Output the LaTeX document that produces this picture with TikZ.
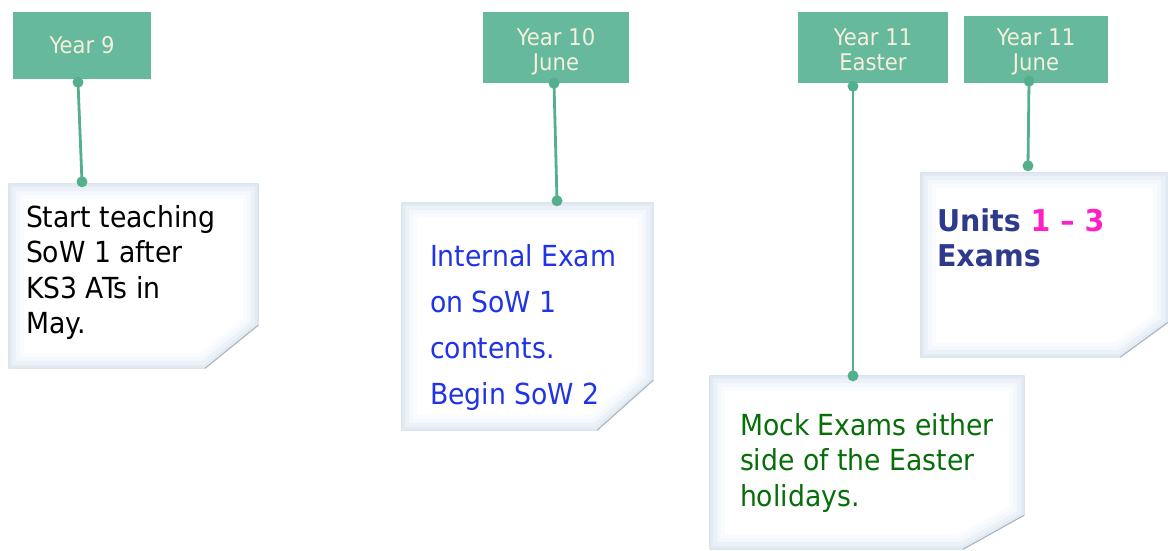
\documentclass[tikz,border=0pt]{standalone}
\usepackage{fontspec}
\setmainfont{DejaVu Sans}[FakeStretch=0.92, BoldFeatures={FakeStretch=0.95}]
\usetikzlibrary{positioning}
\definecolor{yearfill}{RGB}{102,185,156}
\definecolor{yeartext}{RGB}{245,240,220}
\definecolor{stemgreen}{RGB}{84,176,140}
\definecolor{paperedge}{RGB}{205,216,229}
\definecolor{paperglow}{RGB}{226,234,244}
\definecolor{sowblue}{RGB}{32,52,230}
\definecolor{mockgreen}{RGB}{8,110,10}
\definecolor{unitnavy}{RGB}{46,58,140}
\definecolor{unitpink}{RGB}{255,30,200}

\begin{document}
\begin{tikzpicture}[x=1pt,y=-1pt]
% Styles
\tikzstyle{year}=[fill=yearfill, text=yeartext, align=center, inner sep=0pt, text depth=0pt, font=\fontsize{23}{25}\selectfont]
\tikzstyle{paper}=[inner sep=0pt]
\tikzstyle{notetext}=[inner sep=0pt, align=left]
\tikzstyle{link}=[draw=stemgreen, line width=2.8pt]
\tikzset{paperpath/.style n args={3}{insert path={(#1.north west) -- (#1.north east) -- ([yshift=#3pt]#1.south east) -- ([xshift=-#2pt]#1.south east) -- (#1.south west) -- cycle}}}

\useasboundingbox (0,0) rectangle (1168,550);
\fill[white] (0,0) rectangle (1168,550);

% year boxes
\node[year, minimum width=138, minimum height=67, text height=15pt] (y9) at (82,45.5) {Year 9};
\node[year, minimum width=146, minimum height=71, text height=45pt] (y10) at (556,47.5) {Year 10\\June};
\node[year, minimum width=150, minimum height=71, text height=45pt] (y11e) at (873,47.5) {Year 11\\Easter};
\node[year, minimum width=144, minimum height=67, text height=41pt] (y11j) at (1036,49.5) {Year 11\\June};

% the notes
\node[paper, minimum width=249, minimum height=184] (n1) at (133.5,276) {};
\node[paper, minimum width=251, minimum height=227] (n2) at (527.5,316.5) {};
\node[paper, minimum width=314, minimum height=173] (n3) at (867,462.5) {};
\node[paper, minimum width=247, minimum height=184] (n4) at (1044.5,265) {};

\foreach \n/\cx/\cy in {n1/53/43,n2/56/50,n3/61/34,n4/48/35} {
\begin{scope}
\clip[paperpath={\n}{\cx}{\cy}];
\fill[white] (\n.north west) rectangle (\n.south east);
\draw[paperglow!20, line width=30pt, paperpath={\n}{\cx}{\cy}];
\draw[paperglow!40, line width=22pt, paperpath={\n}{\cx}{\cy}];
\draw[paperglow!65, line width=14pt, paperpath={\n}{\cx}{\cy}];
\draw[paperglow, line width=6pt, paperpath={\n}{\cx}{\cy}];
\end{scope}
\draw[paperedge, line width=0.8pt, paperpath={\n}{\cx}{\cy}];
\draw[paperedge!60!gray, line width=1pt] ([yshift=\cy pt]\n.south east) -- ([xshift=-\cx pt]\n.south east);
}

% note texts
\node[notetext, font=\fontsize{29}{35.5}\selectfont, below right=21pt and 17pt of n1.north west] (t1) {Start teaching\\SoW 1 after\\KS3 ATs in\\May.};
\node[notetext, text=sowblue, font=\fontsize{29}{46}\selectfont, below right=41pt and 28pt of n2.north west] (t2) {Internal Exam\\on SoW 1\\contents.\\Begin SoW 2};
\node[notetext, text=mockgreen, font=\fontsize{29}{35.5}\selectfont, below right=37pt and 30pt of n3.north west] (t3) {Mock Exams either\\side of the Easter\\holidays.};
\node[notetext, text=unitnavy, font=\bfseries\fontsize{30}{35}\selectfont, below right=36pt and 16pt of n4.north west] (t4) {Units \textcolor{unitpink}{1 – 3}\\Exams};

% connectors
\foreach \top/\tx/\ty/\bot/\bx/\by in {y9/-4/-3/n1/-51.5/2, y10/-2/0/n2/29.5/2, y11e/-20/-3/n3/-14/0, y11j/-7/2/n4/-16.5/7} {
\draw[link] ([xshift=\tx pt,yshift=\ty pt]\top.south) -- ([xshift=\bx pt,yshift=\by pt]\bot.north);
\fill[stemgreen] ([xshift=\tx pt,yshift=\ty pt]\top.south) circle (5.5pt);
\fill[stemgreen] ([xshift=\bx pt,yshift=\by pt]\bot.north) circle (5.5pt);
}

\end{tikzpicture}
\end{document}
